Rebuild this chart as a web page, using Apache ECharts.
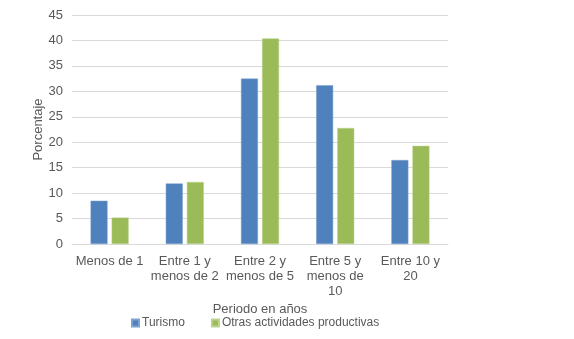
<!DOCTYPE html>
<html>
<head>
<meta charset="utf-8">
<script src="https://cdn.jsdelivr.net/npm/echarts@6/dist/echarts.min.js"></script>
<style>
html, body { margin: 0; padding: 0; background: #fff; }
#chart { width: 574px; height: 339px; }
</style>
</head>
<body>
<div id="chart"></div>
<script>
// periodo en años
var categorias = ['Menos de 1', 'Entre 1 y\nmenos de 2', 'Entre 2 y\nmenos de 5', 'Entre 5 y\nmenos de\n10', 'Entre 10 y\n20'];
var turismo = [8.5, 11.9, 32.5, 31.2, 16.5];
var otras = [5.2, 12.2, 40.4, 22.8, 19.3];
var nombres = ['Turismo', 'Otras actividades productivas'];

var chart = echarts.init(document.getElementById('chart'));
var gris = '#595959';
var fuente = 'Liberation Sans, Arial, sans-serif';

chart.setOption({
	animation : false,
	textStyle : { fontFamily : fuente },
	color : ['#4f81bd', '#9bbb59'],
	grid : { left : 72, right : 126, top : 15, bottom : 95 },
	legend : {
		left : 126,
		top : 312,
		itemWidth : 7,
		itemHeight : 7,
		itemGap : 26,
		icon : 'rect',
		data : nombres,
		textStyle : { color : gris, fontSize : 12, fontFamily : fuente, padding : [0, 0, 0, -2] }
	},
	xAxis : {
		type : 'category',
		data : categorias,
		name : 'Periodo en años',
		nameLocation : 'middle',
		nameGap : 59,
		nameMoveOverlap : false,
		nameTextStyle : { color : gris, fontSize : 13, fontFamily : fuente },
		axisLine : { lineStyle : { color : '#d9d9d9' } },
		axisTick : { show : false },
		axisLabel : { color : gris, fontSize : 13, lineHeight : 15, margin : 10, interval : 0, fontFamily : fuente }
	},
	yAxis : {
		type : 'value',
		min : 0,
		max : 45,
		interval : 5,
		name : 'Porcentaje',
		nameLocation : 'middle',
		nameGap : 27,
		nameMoveOverlap : false,
		nameTextStyle : { color : gris, fontSize : 13, fontFamily : fuente },
		axisLine : { show : false },
		axisTick : { show : false },
		axisLabel : { color : gris, fontSize : 13, margin : 9, fontFamily : fuente },
		splitLine : { lineStyle : { color : '#d9d9d9' } }
	},
	series : [{
		name : nombres[0],
		type : 'bar',
		barWidth : 17,
		barGap : '24%',
		data : turismo,
		itemStyle : { borderColor : '#7fa3d0', borderWidth : 0.5 }
	}, {
		name : nombres[1],
		type : 'bar',
		barWidth : 17,
		barGap : '24%',
		data : otras,
		itemStyle : { borderColor : '#bcd38f', borderWidth : 0.5 }
	}]
});
</script>
</body>
</html>
